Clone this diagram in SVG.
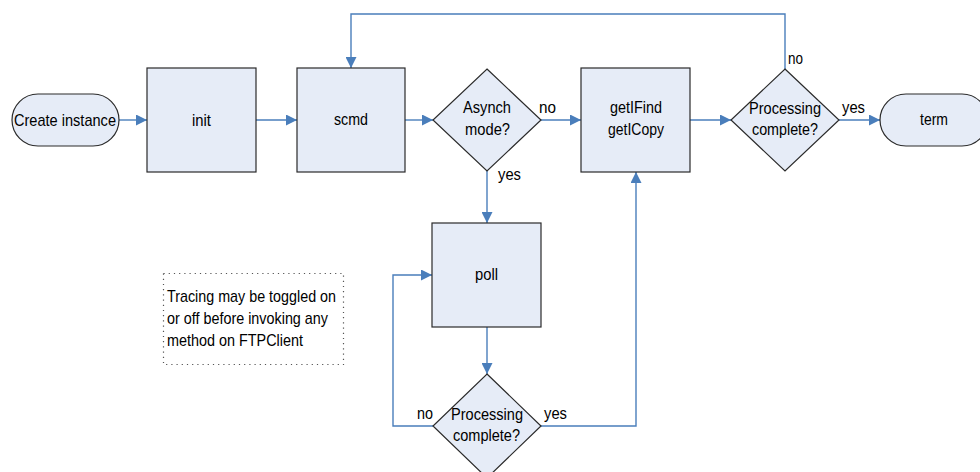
<svg xmlns="http://www.w3.org/2000/svg" width="980" height="472" viewBox="0 0 980 472">
<style>
.shape{fill:#E6ECF7;stroke:#2a2a2a;stroke-width:1.2}
.t{font-family:"Liberation Sans",Arial,sans-serif;font-size:17px;fill:#000}
.conn{fill:none;stroke:#4A7EBB;stroke-width:1.4}
.note{fill:none;stroke:#555;stroke-width:1.2;stroke-dasharray:1.2,4}
</style>
<defs>
<marker id="arr" markerUnits="userSpaceOnUse" markerWidth="11" markerHeight="11" refX="11" refY="5.5" orient="auto" viewBox="0 0 11 11">
<path d="M0,0 L11,5.5 L0,11 z" fill="#4A7EBB"/>
</marker>
</defs>
<rect width="980" height="472" fill="#fff"/>
<g id="connectors">
<path class="conn" d="M119,120 H147" marker-end="url(#arr)"/>
<path class="conn" d="M256,120 H297" marker-end="url(#arr)"/>
<path class="conn" d="M405,120 H433" marker-end="url(#arr)"/>
<path class="conn" d="M541,120 H581" marker-end="url(#arr)"/>
<path class="conn" d="M690,120 H731" marker-end="url(#arr)"/>
<path class="conn" d="M839,120 H880" marker-end="url(#arr)"/>
<path class="conn" d="M785,69 V14 H351 V68" marker-end="url(#arr)"/>
<path class="conn" d="M487,171 V223" marker-end="url(#arr)"/>
<path class="conn" d="M487,327 V374" marker-end="url(#arr)"/>
<path class="conn" d="M433,426 H393 V275 H432" marker-end="url(#arr)"/>
<path class="conn" d="M541,426 H636 V172" marker-end="url(#arr)"/>
<text class="t" x="539" y="113" textLength="17" lengthAdjust="spacingAndGlyphs">no</text>
<text class="t" x="498" y="180" textLength="23" lengthAdjust="spacingAndGlyphs">yes</text>
<text class="t" x="788" y="64" textLength="15" lengthAdjust="spacingAndGlyphs">no</text>
<text class="t" x="842" y="113" textLength="23" lengthAdjust="spacingAndGlyphs">yes</text>
<text class="t" x="417" y="419" textLength="16" lengthAdjust="spacingAndGlyphs">no</text>
<text class="t" x="544" y="419" textLength="23" lengthAdjust="spacingAndGlyphs">yes</text>
</g>
<g id="create">
<rect class="shape" x="12" y="94" width="107" height="52" rx="26" ry="26"/>
<text class="t" x="14" y="126" textLength="102" lengthAdjust="spacingAndGlyphs">Create instance</text>
</g>
<g id="init">
<rect class="shape" x="147" y="68" width="109" height="104"/>
<text class="t" x="192" y="126" textLength="19" lengthAdjust="spacingAndGlyphs">init</text>
</g>
<g id="scmd">
<rect class="shape" x="297" y="68" width="108" height="104"/>
<text class="t" x="334" y="125" textLength="34" lengthAdjust="spacingAndGlyphs">scmd</text>
</g>
<g id="asynch">
<polygon class="shape" points="487,69 541,120 487,171 433,120"/>
<text class="t" x="463" y="113" textLength="48" lengthAdjust="spacingAndGlyphs">Asynch</text>
<text class="t" x="465" y="135" textLength="45" lengthAdjust="spacingAndGlyphs">mode?</text>
</g>
<g id="getl">
<rect class="shape" x="581" y="68" width="109" height="104"/>
<text class="t" x="610" y="113" textLength="52" lengthAdjust="spacingAndGlyphs">getIFind</text>
<text class="t" x="608" y="135" textLength="56" lengthAdjust="spacingAndGlyphs">getICopy</text>
</g>
<g id="processing1">
<polygon class="shape" points="785,69 839,120 785,171 731,120"/>
<text class="t" x="749" y="114" textLength="72" lengthAdjust="spacingAndGlyphs">Processing</text>
<text class="t" x="752" y="135" textLength="66" lengthAdjust="spacingAndGlyphs">complete?</text>
</g>
<g id="term">
<rect class="shape" x="880" y="94" width="108" height="52" rx="26" ry="26"/>
<text class="t" x="920" y="125" textLength="28" lengthAdjust="spacingAndGlyphs">term</text>
</g>
<g id="poll">
<rect class="shape" x="432" y="223" width="109" height="104"/>
<text class="t" x="475" y="280" textLength="23" lengthAdjust="spacingAndGlyphs">poll</text>
</g>
<g id="processing2">
<polygon class="shape" points="487,374 541,426 487,478 433,426"/>
<text class="t" x="451" y="420" textLength="72" lengthAdjust="spacingAndGlyphs">Processing</text>
<text class="t" x="453" y="441" textLength="67" lengthAdjust="spacingAndGlyphs">complete?</text>
</g>
<g id="note">
<rect class="note" x="163.5" y="273.5" width="180" height="91"/>
<text class="t" x="167" y="302" textLength="169" lengthAdjust="spacingAndGlyphs">Tracing may be toggled on</text>
<text class="t" x="167" y="324" textLength="161" lengthAdjust="spacingAndGlyphs">or off before invoking any</text>
<text class="t" x="167" y="346" textLength="136" lengthAdjust="spacingAndGlyphs">method on FTPClient</text>
</g>
</svg>
